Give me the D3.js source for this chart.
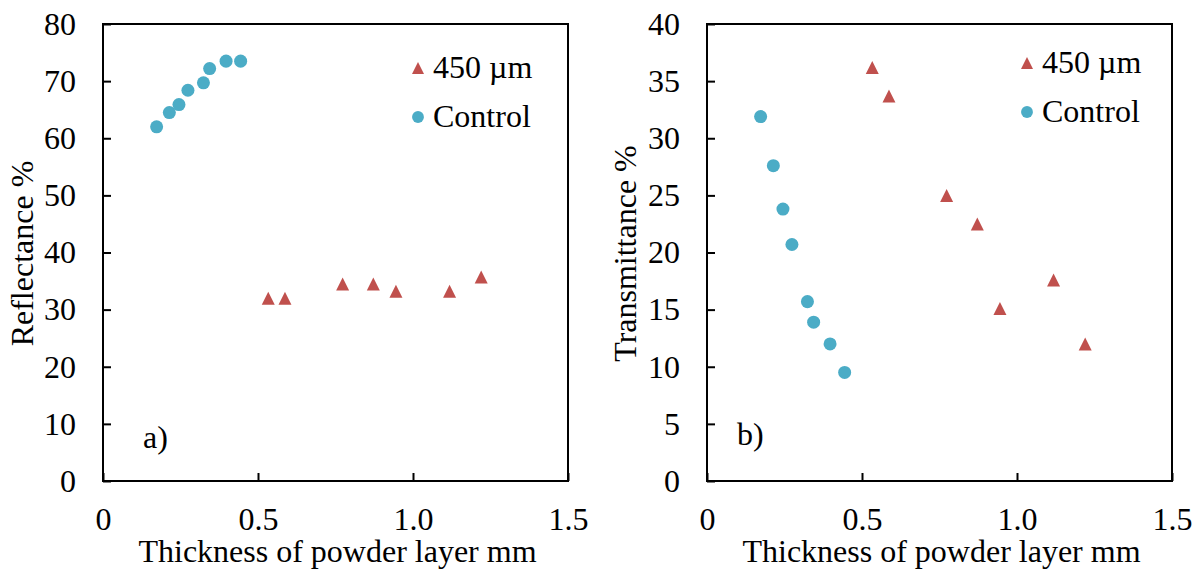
<!DOCTYPE html>
<html>
<head>
<meta charset="utf-8">
<script src="https://cdn.jsdelivr.net/npm/d3@7"></script>
<style>
  body { margin: 0; background: #fff; }
  text { font-family: "Liberation Serif", "Times New Roman", serif; fill: #000; }
</style>
</head>
<body>
<script>
// values
var thickness450 = [0.533, 0.587, 0.773, 0.872, 0.945, 1.118, 1.220];
var reflect450 = [32.0, 32.0, 34.5, 34.5, 33.2, 33.2, 35.7];
var trans450 = [36.2, 33.7, 25.0, 22.5, 15.1, 17.6, 12.0];

var thicknessCtrl = [0.173, 0.214, 0.245, 0.274, 0.324, 0.344, 0.397, 0.444];
var reflectCtrl = [62.0, 64.5, 65.9, 68.4, 69.7, 72.2, 73.5, 73.5];
var transCtrl = [31.9, 27.6, 23.8, 20.7, 15.7, 13.9, 12.0, 9.5];

var xTicks = [0, 0.5, 1.0, 1.5];
var xTickLabels = ["0", "0.5", "1.0", "1.5"];
var reflectTicks = [0, 10, 20, 30, 40, 50, 60, 70, 80];
var transTicks = [0, 5, 10, 15, 20, 25, 30, 35, 40];

var seriesNames = ["450 \u00b5m", "Control"];
var red = "#c0504d",
    blue = "#4bacc6";

var width = 1200,
    height = 571,
    fontSize = "32px";

var svg = d3.select("body").append("svg")
    .attr("width", width)
    .attr("height", height)

// triangle centred on its bounding box, like the spreadsheet marker
var triangleMark = {
    draw: function (ctx, size) {
        var s = Math.sqrt(size);
        ctx.moveTo(0, -s / 2);
        ctx.lineTo(s / 2, s / 2);
        ctx.lineTo(-s / 2, s / 2);
        ctx.closePath();
    }
}
var triPath = d3.symbol().type(triangleMark).size(169)();
var dotPath = d3.symbol().type(d3.symbolCircle).size(133)();

var panels = [{
    left: 103, right: 568,
    yTicks: reflectTicks, yMax: 80,
    yTitle: "Reflectance %", titleX: 33,
    tag: "a)", tagX: 143, tagY: 448,
    y450: reflect450, yCtrl: reflectCtrl,
    legendX: 418, legendY: 68
}, {
    left: 707, right: 1172,
    yTicks: transTicks, yMax: 40,
    yTitle: "Transmittance %", titleX: 636,
    tag: "b)", tagX: 737, tagY: 445,
    y450: trans450, yCtrl: transCtrl,
    legendX: 1027, legendY: 63
}];

var plotTop = 24,
    plotBottom = 481;

panels.forEach(function (p) {
    var x = d3.scaleLinear().domain([0, 1.5]).range([p.left, p.right]);
    var y = d3.scaleLinear().domain([0, p.yMax]).range([plotBottom, plotTop]);

    var g = svg.append("g");

    /* axes with ticks pointing into the plot */
    var xAxis = g.append("g")
        .attr("transform", "translate(0," + plotBottom + ")")
        .call(d3.axisBottom(x).tickValues(xTicks)
            .tickFormat(function (d, i) { return xTickLabels[i] })
            .tickSizeInner(-8).tickSizeOuter(0).tickPadding(26));
    var yAxis = g.append("g")
        .attr("transform", "translate(" + p.left + ",0)")
        .call(d3.axisLeft(y).tickValues(p.yTicks)
            .tickSizeInner(-8).tickSizeOuter(0).tickPadding(27));

    [xAxis, yAxis].forEach(function (a) {
        a.select(".domain").remove();
        a.selectAll(".tick line").attr("stroke", "#000").attr("stroke-width", 2);
        a.selectAll(".tick text")
            .style("font-family", "'Liberation Serif', 'Times New Roman', serif")
            .style("font-size", fontSize)
            .attr("fill", "#000");
    })

    /* frame */
    g.append("rect")
        .attr("x", p.left)
        .attr("y", plotTop)
        .attr("width", p.right - p.left)
        .attr("height", plotBottom - plotTop)
        .attr("fill", "none")
        .attr("stroke", "#000")
        .attr("stroke-width", 2)

    /* axis titles */
    g.append("text")
        .attr("x", (p.left + p.right) / 2 + 2)
        .attr("y", 562)
        .attr("text-anchor", "middle")
        .style("font-size", fontSize)
        .text("Thickness of powder layer mm")

    g.append("text")
        .attr("transform", "translate(" + p.titleX + "," + ((plotTop + plotBottom) / 2 + 1) + ") rotate(-90)")
        .attr("text-anchor", "middle")
        .style("font-size", fontSize)
        .text(p.yTitle)

    g.append("text")
        .attr("x", p.tagX)
        .attr("y", p.tagY)
        .style("font-size", fontSize)
        .text(p.tag)

    /* points */
    g.selectAll("path.tri")
        .data(thickness450.map(function (t, i) { return [t, p.y450[i]] }))
        .enter().append("path")
        .attr("class", "tri")
        .attr("d", triPath)
        .attr("fill", red)
        .attr("transform", function (d) {
            return "translate(" + x(d[0]) + "," + y(d[1]) + ")"
        })

    g.selectAll("path.dot")
        .data(thicknessCtrl.map(function (t, i) { return [t, p.yCtrl[i]] }))
        .enter().append("path")
        .attr("class", "dot")
        .attr("d", dotPath)
        .attr("fill", blue)
        .attr("transform", function (d) {
            return "translate(" + x(d[0]) + "," + y(d[1]) + ")"
        })

    /* legend */
    var legend = g.selectAll("g.legend")
        .data(seriesNames)
        .enter().append("g")
        .attr("class", "legend")
        .attr("transform", function (d, i) {
            return "translate(" + p.legendX + "," + (p.legendY + i * 49) + ")"
        })

    legend.append("path")
        .attr("d", function (d, i) { return i === 0 ? d3.symbol().type(triangleMark).size(144)() : d3.symbol().type(d3.symbolCircle).size(110)() })
        .attr("fill", function (d, i) { return i === 0 ? red : blue })

    legend.append("text")
        .attr("x", 15)
        .attr("y", 10)
        .style("font-size", fontSize)
        .text(function (d) { return d })
})
</script>
</body>
</html>
